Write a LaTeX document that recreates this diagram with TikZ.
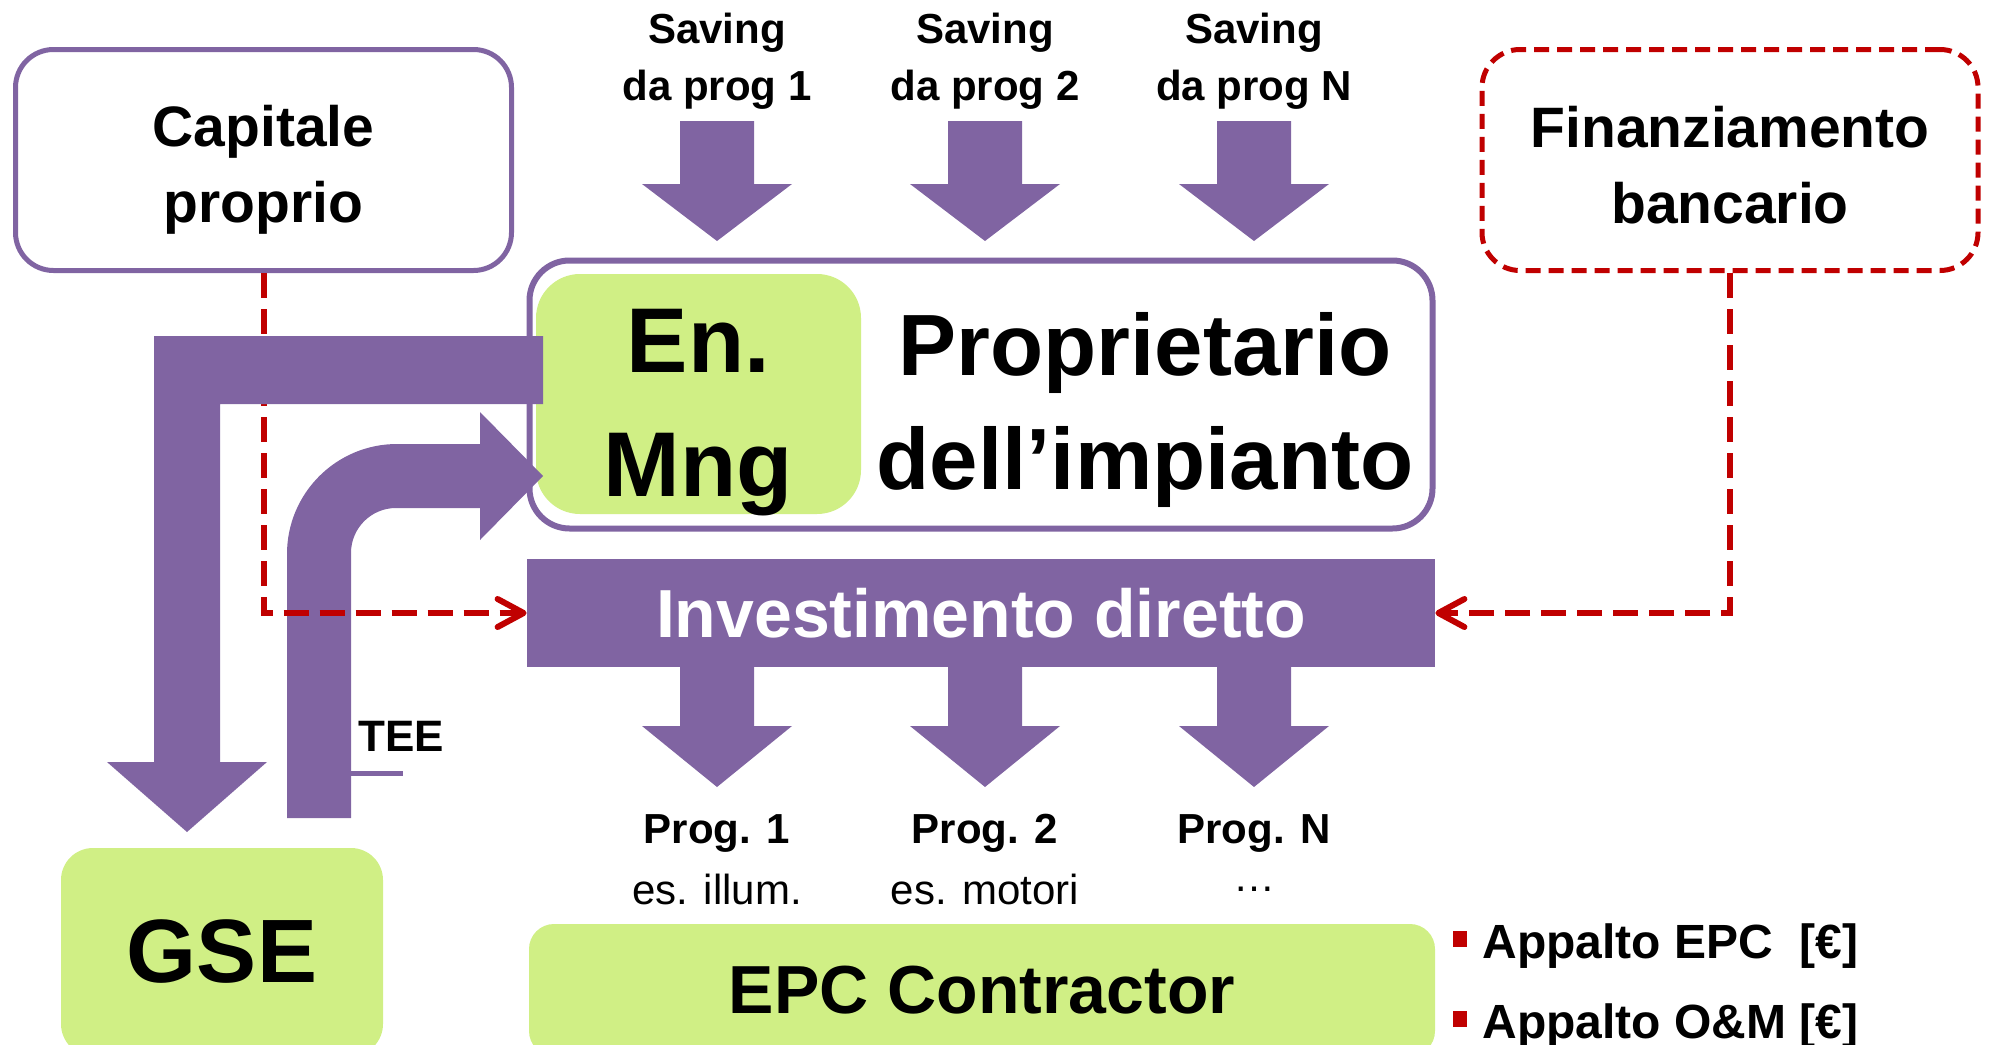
\documentclass[tikz,border=0pt]{standalone}
\usepackage{fontspec}
\setmainfont{Liberation Sans}
\usetikzlibrary{positioning,arrows.meta}
\definecolor{viola}{HTML}{8064A2}
\definecolor{verde}{HTML}{D0EF85}
\definecolor{rosso}{HTML}{C00000}
\tikzset{
	capbox/.style={draw=viola, line width=2.5pt, rounded corners=19pt, fill=white, minimum width=248pt, minimum height=110.5pt, inner sep=0pt, align=center},
	finbox/.style={capbox, draw=rosso, dash pattern=on 7.5pt off 4pt},
	boxtxt/.style={inner sep=0pt, align=center, font=\fontsize{28.5}{38}\selectfont\bfseries},
	propbox/.style={draw=viola, line width=3pt, rounded corners=20pt, fill=white, minimum width=451.5pt, minimum height=134pt},
	enbox/.style={fill=verde, rounded corners=22pt, minimum width=162.5pt, minimum height=120pt, inner sep=0pt},
	entxt/.style={inner sep=0pt, align=center, font=\fontsize{46}{62}\selectfont\bfseries},
	bigtxt/.style={inner sep=0pt, align=center, font=\fontsize{43.5}{57}\selectfont\bfseries},
	invbox/.style={fill=viola, text=white, minimum width=454pt, minimum height=54pt, inner sep=0pt, font=\fontsize{34}{40}\selectfont\bfseries},
	epcbox/.style={fill=verde, rounded corners=12.5pt, minimum width=453pt, minimum height=66pt, inner sep=0pt, font=\fontsize{34}{40}\selectfont\bfseries},
	gsebox/.style={fill=verde, rounded corners=16pt, minimum width=161pt, minimum height=104pt, inner sep=0pt, font=\fontsize{45}{54}\selectfont\bfseries},
	savtxt/.style={inner sep=0pt, align=center, font=\fontsize{21}{28.5}\selectfont\bfseries},
	progtxt/.style={inner sep=0pt, font=\fontsize{21}{25}\selectfont\bfseries},
	estxt/.style={inner sep=0pt, font=\fontsize{21}{25}\selectfont},
	voce/.style={inner sep=0pt, anchor=base west, font=\fontsize{24}{28}\selectfont\bfseries},
	reddash/.style={draw=rosso, line width=3pt, dash pattern=on 12.5pt off 5.5pt, -{Straight Barb[round,length=13pt,width=14pt]}},
}
\begin{document}
\begin{tikzpicture}[x=0.5pt,y=-0.5pt]
	\useasboundingbox (0,0) rectangle (1991,1044);
	\clip (0,0) rectangle (1991,1044);
	\newcommand{\shw}{37}
	\newcommand{\hdw}{75}
	% boxes
	\node[capbox] (cap) at (263.5,160) {};
	\node[boxtxt] (captxt) at (263.5,170) {Capitale\\proprio};
	\node[finbox] (fin) at (1730,160) {};
	\node[boxtxt] (fintxt) at (1730,165) {Finanziamento\\bancario};
	\node[propbox] (prop) at (981,394.5) {};
	\node[enbox] (enm) at (698.5,394) {};
	\node[entxt] (entxt) at (698.5,413) {En.\\Mng};
	\node[bigtxt] (proptxt) at (1145,410) {Proprietario\\dell’impianto};
	\node[invbox] (inv) at (981,613) {Investimento diretto};
	\node[epcbox] (epc) at (982,990) {EPC Contractor};
	\node[gsebox] (gse) at (222,952) {GSE};
	% saving and progetti
	\foreach \ax/\lbl/\es in {717/1/es. illum., 985/2/es. motori, 1254/N/\ldots}{
		\node[savtxt] (sav\lbl) at (\ax,61) {Saving\\da prog \lbl};
		\fill[viola] (\ax-\shw,121) -- (\ax+\shw,121) -- (\ax+\shw,184) -- (\ax+\hdw,184) -- (\ax,241) -- (\ax-\hdw,184) -- (\ax-\shw,184) -- cycle;
		\fill[viola] (\ax-\shw,667) -- (\ax+\shw,667) -- (\ax+\shw,726) -- (\ax+\hdw,726) -- (\ax,787) -- (\ax-\hdw,726) -- (\ax-\shw,726) -- cycle;
		\node[progtxt] (prg\lbl) at (\ax,833) {Prog. \lbl};
		\node[estxt] (es\lbl) at (\ax,889) {\es};
	}
	% TEE
	\fill[viola] (287,818) -- (287,554) arc(180:270:110) -- (480,444) -- (480,412) -- (543,476) -- (480,540) -- (480,508) -- (396,508) arc(270:180:45) -- (351,818) -- cycle;
	\draw[viola, line width=2.5pt] (351,773) -- (403,773);
	\node[progtxt, anchor=base west, font=\fontsize{22}{26}\selectfont\bfseries] (tee) at (358,751) {TEE};
	% finanziamento
	\draw[reddash] (cap.south) |- (inv.west);
	\draw[reddash] (fin.south) |- (inv.east);
	\fill[viola] (543,336) -- (154,336) -- (154,762) -- (107,762) -- (187,832) -- (267,762) -- (220,762) -- (220,404) -- (543,404) -- cycle;
	% appalti
	\fill[rosso] (1453,931) rectangle (1467,947);
	\fill[rosso] (1453,1011) rectangle (1467,1027);
	\node[voce] (epcv) at (1482,958) {Appalto EPC\ \ [€]};
	\node[voce] (omv) at (1482,1038) {Appalto O\&M [€]};
\end{tikzpicture}
\end{document}
